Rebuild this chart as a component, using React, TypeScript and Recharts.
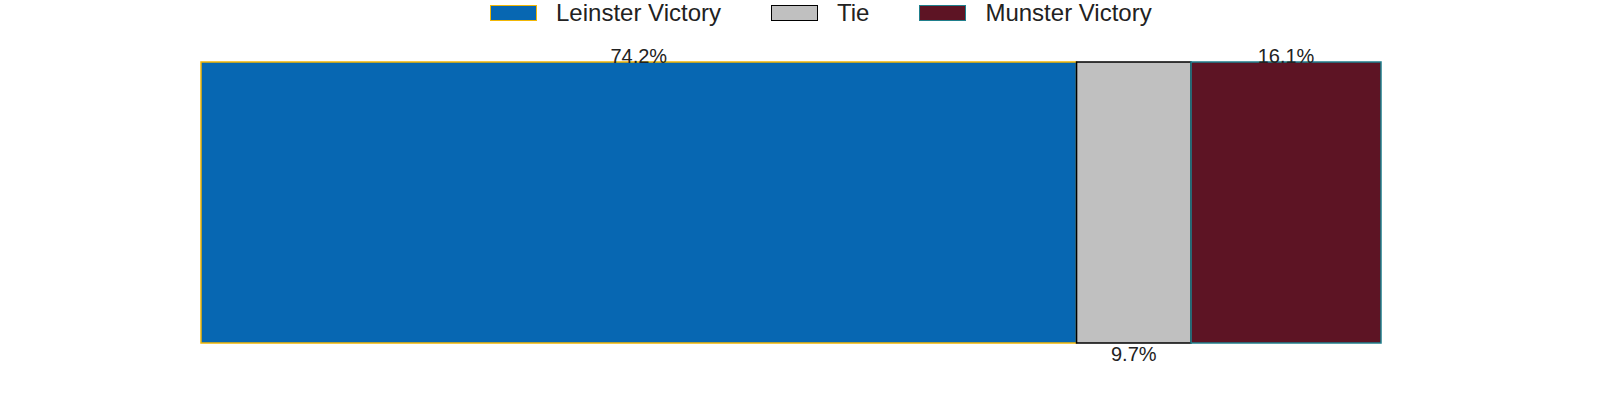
import { BarChart, Bar, XAxis, YAxis, Legend, LabelList } from "recharts";

const categories = ["Head to head"];
const leinster = [74.2];
const tie = [9.7];
const munster = [16.1];

const seriesNames = ["Leinster Victory", "Tie", "Munster Victory"];
const fills = ["#0767b2", "#c0c0c0", "#5d1424"];
const strokes = ["#f2b705", "#000000", "#1f7f8c"];

const data = categories.map((c, i) => ({
  name: c,
  leinster: leinster[i],
  tie: tie[i],
  munster: munster[i],
}));

const FONT = "'Liberation Sans', Arial, sans-serif";

const topLabel = (props: any) => {
  const { x, y, width, value } = props;
  return (
    <text
      x={x + width / 2}
      y={y + 1}
      textAnchor="middle"
      fontSize={20}
      fontFamily={FONT}
      fill="#222"
    >
      {`${value}%`}
    </text>
  );
};

const bottomLabel = (props: any) => {
  const { x, y, width, height, value } = props;
  return (
    <text
      x={x + width / 2}
      y={y + height + 18}
      textAnchor="middle"
      fontSize={20}
      fontFamily={FONT}
      fill="#222"
    >
      {`${value}%`}
    </text>
  );
};

// legend in series order, not the alphabetical order recharts hands us
const CustomLegend = ({ payload }: any) => {
  const items = [...(payload || [])].sort(
    (a: any, b: any) => seriesNames.indexOf(a.value) - seriesNames.indexOf(b.value)
  );
  return (
    <div
      style={{
        display: "flex",
        alignItems: "center",
        paddingLeft: 490,
        height: 26,
        fontFamily: FONT,
        fontSize: 24,
        color: "#222",
      }}
    >
      {items.map((p: any) => {
        const i = seriesNames.indexOf(p.value);
        return (
          <div
            key={p.value}
            style={{ display: "flex", alignItems: "center", marginRight: 50 }}
          >
            <span
              style={{
                display: "inline-block",
                width: 45,
                height: 14,
                background: fills[i],
                border: `1.5px solid ${strokes[i]}`,
                marginRight: 19,
              }}
            />
            <span>{p.value}</span>
          </div>
        );
      })}
    </div>
  );
};

export default function App() {
  return (
    <div style={{ position: "absolute", left: 0, top: 0, background: "#fff" }}>
      <BarChart
        width={1600}
        height={400}
        data={data}
        layout="vertical"
        margin={{ top: 36, right: 219, bottom: 57, left: 201 }}
        barCategoryGap={0}
      >
        <XAxis type="number" domain={[0, 100]} hide />
        <YAxis type="category" dataKey="name" hide />
        <Legend
          verticalAlign="top"
          content={<CustomLegend />}
          wrapperStyle={{ top: 0, left: 0, width: 1600 }}
        />
        <Bar
          dataKey="leinster"
          name={seriesNames[0]}
          stackId="a"
          fill={fills[0]}
          stroke={strokes[0]}
          strokeWidth={1.5}
          isAnimationActive={false}
        >
          <LabelList dataKey="leinster" content={topLabel} />
        </Bar>
        <Bar
          dataKey="tie"
          name={seriesNames[1]}
          stackId="a"
          fill={fills[1]}
          stroke={strokes[1]}
          strokeWidth={1.5}
          isAnimationActive={false}
        >
          <LabelList dataKey="tie" content={bottomLabel} />
        </Bar>
        <Bar
          dataKey="munster"
          name={seriesNames[2]}
          stackId="a"
          fill={fills[2]}
          stroke={strokes[2]}
          strokeWidth={1.5}
          isAnimationActive={false}
        >
          <LabelList dataKey="munster" content={topLabel} />
        </Bar>
      </BarChart>
    </div>
  );
}
